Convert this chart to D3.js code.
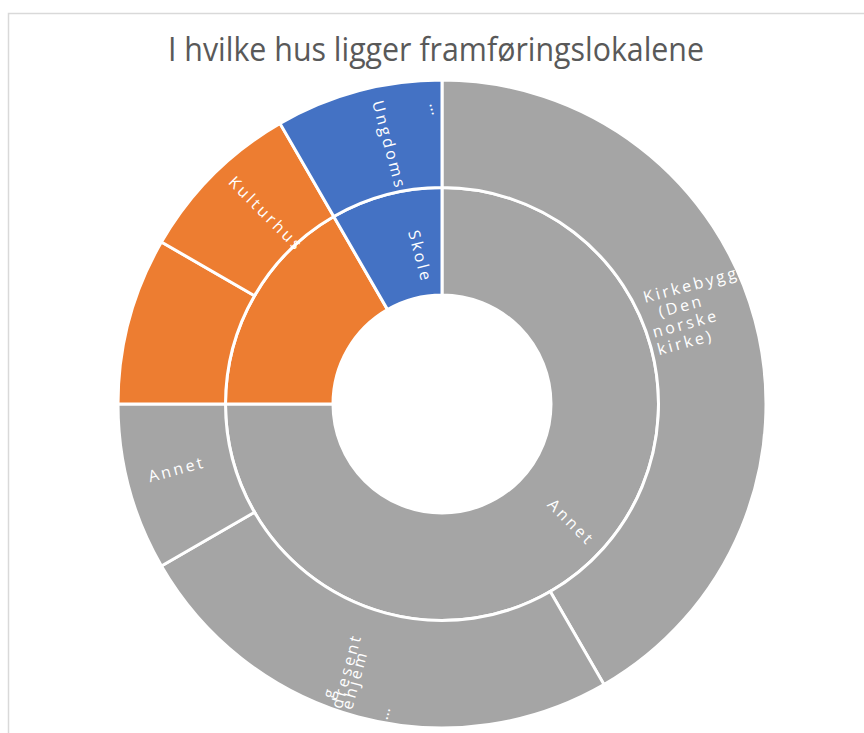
<!DOCTYPE html>
<html>
<head>
<meta charset="utf-8">
<script src="https://cdn.jsdelivr.net/npm/d3@7"></script>
<style>
  html, body { margin: 0; padding: 0; background: #ffffff; }
  svg { display: block; }
</style>
</head>
<body>
<div id="chart"></div>
<script>
// ---------------- DATA ----------------
const chartTitle = "I hvilke hus ligger framføringslokalene";
// inner ring (categories), clockwise from 12 o'clock
const groups = ["Annet", "Kulturhus", "Skole"];
// outer ring (sub-categories), clockwise from 12 o'clock
const leafNames = ["Kirkebygg (Den norske kirke)", "Bygdehus/grendehus/forsamlingshus", "Annet", "Kulturhus (annet)", "Kulturhus", "Ungdomshus"];
const leafGroups = ["Annet", "Annet", "Annet", "Kulturhus", "Kulturhus", "Skole"];
const leafValues = [5, 3, 1, 1, 1, 1];
const groupColors = ["#A5A5A5", "#ED7D31", "#4472C4"];

// ---------------- LAYOUT ----------------
const W = 864, H = 733;
const cx = 442, cy = 404;
const rHole = 109, rOuter = 324;

const svg = d3.select("#chart").append("svg").attr("width", W).attr("height", H);

// frame
svg.append("rect").attr("x", 8.5).attr("y", 13.5).attr("width", 900).attr("height", 800)
  .attr("fill", "none").attr("stroke", "#D9D9D9").attr("stroke-width", 1.5);

// title
svg.append("text").attr("x", 436).attr("y", 61).attr("text-anchor", "middle")
  .attr("font-family", "'Open Sans', sans-serif").attr("font-weight", 400)
  .attr("font-size", 32).attr("fill", "#595959")
  .attr("textLength", 536).attr("lengthAdjust", "spacingAndGlyphs")
  .text(chartTitle);

// hierarchy
const rootData = {
  name: "root",
  children: groups.map(g => ({
    name: g,
    children: leafNames.map((n, i) => ({ name: n, group: leafGroups[i], value: leafValues[i] }))
                       .filter(d => d.group === g)
  }))
};
const root = d3.hierarchy(rootData).sum(d => d.value || 0);
d3.partition().size([2 * Math.PI, 3])(root);

const color = d3.scaleOrdinal().domain(groups).range(groupColors);
const radius = d3.scaleLinear().domain([1, 3]).range([rHole, rOuter]);

const arc = d3.arc()
  .startAngle(d => d.x0).endAngle(d => d.x1)
  .innerRadius(d => radius(d.y0)).outerRadius(d => radius(d.y1));

const g = svg.append("g").attr("transform", `translate(${cx},${cy})`);
const nodes = root.descendants().filter(d => d.depth > 0);
const topGroup = d => (d.depth === 1 ? d.data.name : d.parent.data.name);

g.selectAll("path").data(nodes).join("path")
  .attr("d", arc)
  .attr("fill", d => color(topGroup(d)))
  .attr("stroke", "#ffffff").attr("stroke-width", 3).attr("stroke-linejoin", "miter");

// ---------------- LABELS ----------------
// positions are given relative to each segment's mid angle (deg offset) and a radius
const labelSpec = {
  "1|Annet": { dTheta: -0.7, r: 175, anchor: "middle", lines: [{ t: "Annet", dy: 0 }] },
  "1|Skole": { dTheta: 4.5, r: 148.5, anchor: "middle", lines: [{ t: "Skole", dy: 0 }] },
  "2|Kirkebygg (Den norske kirke)": { dTheta: -11.45, r: 226.7, anchor: "start",
    lines: [{ t: "Kirkebygg", dy: 0, dx: 0 }, { t: "(Den", dy: 18, dx: 11 }, { t: "norske", dy: 36, dx: 0 }, { t: "kirke)", dy: 54, dx: 0 }] },
  "2|Bygdehus/grendehus/forsamlingshus": { multi: [
    { dTheta: 6.0, r: 275, t: "g" , dx: -34},
    { dTheta: 3.6, r: 283, t: "dresent" },
    { dTheta: 1.5, r: 289, t: "ehjem" },
    { dTheta: -5.3, r: 313.5, t: "…" }
  ] },
  "2|Annet": { dTheta: 0, r: 273, anchor: "middle", lines: [{ t: "Annet", dy: 0 }] },
  "2|Kulturhus": { dTheta: 1, r: 259, anchor: "middle", lines: [{ t: "Kulturhus", dy: 0 }] },
  "2|Ungdomshus": { multi: [
    { dTheta: 2.3, r: 264, t: "Ungdoms" },
    { dTheta: 12.9, r: 293, t: "…" }
  ] }
};

const deg = 180 / Math.PI;
function polar(thetaDeg, r) {
  const a = thetaDeg / deg;
  return [r * Math.sin(a), -r * Math.cos(a)];
}
function rotationFor(mid) { return mid < 180 ? mid - 90 : mid - 270; }

const labelLayer = g.append("g")
  .attr("font-family", "'Open Sans', sans-serif")
  .attr("font-size", 16).attr("fill", "#ffffff")
  .attr("letter-spacing", "2.8px");

nodes.forEach(d => {
  const spec = labelSpec[d.depth + "|" + d.data.name];
  if (!spec) return;
  const mid = (d.x0 + d.x1) / 2 * deg;
  const rot = rotationFor(mid);
  const items = spec.multi
    ? spec.multi.map(m => ({ dTheta: m.dTheta, r: m.r, anchor: "middle", lines: [{ t: m.t, dy: 0, dx: m.dx || 0 }] }))
    : [spec];
  items.forEach(it => {
    const [x, y] = polar(mid + it.dTheta, it.r);
    const txt = labelLayer.append("text")
      .attr("transform", `translate(${x},${y}) rotate(${rot})`)
      .attr("text-anchor", it.anchor);
    it.lines.forEach(l => {
      txt.append("tspan").attr("x", l.dx || 0).attr("y", l.dy).text(l.t);
    });
  });
});
</script>
</body>
</html>
